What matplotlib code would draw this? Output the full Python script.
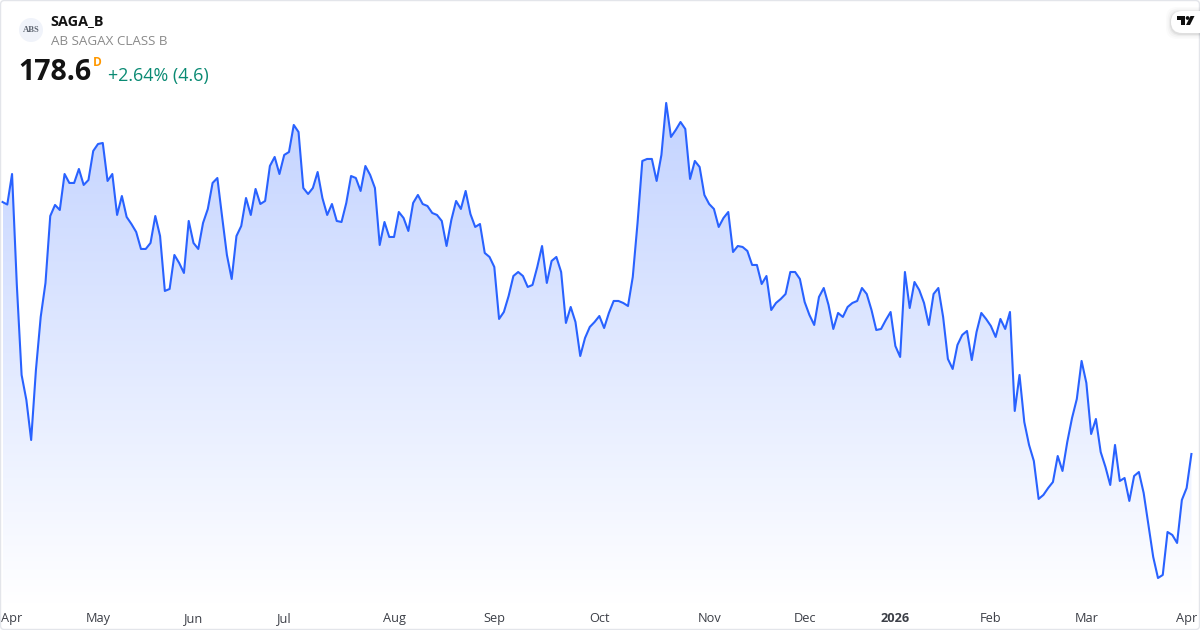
"""SAGA_B one-year area chart card."""

import matplotlib
matplotlib.use("Agg")
import matplotlib.pyplot as plt
import numpy as np
from matplotlib.colors import LinearSegmentedColormap
from matplotlib.patches import Circle, FancyBboxPatch, Polygon
from matplotlib.transforms import ScaledTranslation

plt.rcParams["font.family"] = ["Open Sans", "DejaVu Sans"]

prices = [
    212.62, 212.28, 216.40, 201.42, 189.27, 185.89, 180.49, 189.94, 197.10, 201.69,
    210.73, 212.22, 211.54, 216.40, 215.19, 215.19, 217.08, 214.92, 215.59, 219.51,
    220.45, 220.59, 215.46, 216.40, 210.87, 213.43, 210.60, 209.65, 208.57, 206.28,
    206.28, 207.09, 210.73, 208.03, 200.61, 200.88, 205.47, 204.39, 203.04, 210.06,
    207.09, 206.28, 209.79, 211.68, 215.19, 215.86, 210.60, 205.47, 202.23, 208.03,
    209.38, 213.16, 210.87, 214.38, 212.35, 212.76, 217.48, 218.70, 216.40, 218.97,
    219.37, 223.02, 222.07, 214.51, 213.70, 214.51, 216.67, 213.16, 210.87, 212.35,
    210.06, 209.92, 212.49, 216.13, 215.86, 214.11, 217.48, 216.27, 214.51, 206.82,
    209.92, 207.90, 207.90, 211.27, 210.46, 208.71, 212.49, 213.57, 212.35, 212.08,
    211.14, 210.87, 210.06, 206.68, 210.19, 212.76, 211.68, 214.11, 211.00, 209.25,
    209.65, 205.74, 205.20, 203.85, 196.83, 197.77, 199.93, 202.63, 203.17, 202.63,
    201.15, 201.42, 203.85, 206.68, 201.69, 204.66, 205.20, 203.17, 196.29, 198.45,
    196.42, 191.83, 194.26, 195.75, 196.42, 197.23, 195.61, 197.64, 199.26, 199.26,
    198.99, 198.58, 202.50, 209.79, 218.16, 218.43, 218.43, 215.46, 218.97, 225.99,
    221.40, 222.34, 223.42, 222.48, 215.73, 218.16, 217.35, 213.57, 212.35, 211.68,
    209.25, 210.46, 211.27, 205.87, 206.68, 206.55, 206.01, 204.12, 204.12, 201.55,
    202.63, 198.04, 198.99, 199.53, 200.20, 203.17, 203.17, 202.23, 199.12, 197.37,
    196.02, 199.80, 201.01, 198.72, 195.48, 197.64, 197.10, 198.45, 198.99, 199.26,
    201.01, 200.20, 198.04, 195.34, 195.48, 196.69, 197.77, 193.18, 191.70, 203.17,
    198.31, 201.82, 200.74, 198.99, 196.02, 200.20, 201.01, 197.10, 191.43, 190.08,
    193.32, 194.67, 195.21, 191.29, 195.07, 197.64, 196.83, 195.88, 194.40, 196.83,
    195.48, 197.77, 184.41, 189.27, 182.92, 179.82, 177.66, 172.53, 173.07, 174.01,
    174.82, 178.33, 176.31, 180.22, 183.46, 186.03, 191.16, 188.19, 181.30, 183.33,
    178.87, 176.85, 174.42, 179.82, 174.96, 175.36, 172.26, 175.63, 176.17, 173.34,
    169.02, 164.70, 161.86, 162.27, 168.07, 167.67, 166.59, 172.39, 174.01, 178.60,
]
tick_days = [0, 20, 40, 59, 82, 103, 125, 148, 168, 187, 207, 227, 248]
tick_labels = ["Apr", "May", "Jun", "Jul", "Aug", "Sep", "Oct", "Nov", "Dec", "2026", "Feb", "Mar", "Apr"]

W, H = 1200, 630
LINE = "#2962ff"


def draw_card(fig):
    # everything here is in figure pixels
    over = fig.add_axes([0, 0, 1, 1], zorder=5)
    over.set_xlim(0, W)
    over.set_ylim(H, 0)
    over.axis("off")
    over.patch.set_alpha(0)
    over.add_patch(FancyBboxPatch((0.5, 0.5), W - 1, H - 1, boxstyle="round,pad=0,rounding_size=4",
                                  fill=False, ec="#e3e5ea", lw=1.0))
    over.add_patch(Circle((31, 30), 12, color="#f0f3fa", lw=0))
    over.text(31, 30.5, "ABS", family=["Liberation Serif", "DejaVu Serif"], fontsize=6.2, weight="bold",
              color="#5f6672", ha="center", va="center")
    over.text(50.5, 21, "SAGA_B", fontsize=10.4, weight="bold", color="#131313", va="center")
    over.text(51, 41.5, "AB SAGAX CLASS B", fontsize=9.6, color="#8a8a8a", va="center")
    over.text(18.5, 73, "178.6", fontsize=20.5, weight="bold", color="#131313", va="center")
    over.text(93, 62, "D", fontsize=8.6, weight="bold", color="#ff9800", va="center")
    over.text(108, 75.5, "+2.64% (4.6)", fontsize=12.9, color="#0a8a73", va="center")

    # logo tab
    for grow, alpha in ((5, 0.015), (3.5, 0.025), (2, 0.035), (1, 0.05)):
        over.add_patch(FancyBboxPatch((1171 - grow, 11 - grow + 1), 50, 22 + 2 * grow,
                                      boxstyle="round,pad=0,rounding_size=11", color="black", alpha=alpha, lw=0))
    over.add_patch(FancyBboxPatch((1171, 11), 50, 22, boxstyle="round,pad=0,rounding_size=11", color="white", lw=0))
    over.add_patch(Polygon([(1177, 16), (1185, 16), (1185, 25), (1181, 25), (1181, 20), (1177, 20)],
                           color="#0f0f0f", lw=0))
    over.add_patch(Circle((1187.6, 18), 1.9, color="#0f0f0f", lw=0))
    over.add_patch(Polygon([(1190.5, 16), (1194.5, 16), (1190, 25), (1186, 25)], color="#0f0f0f", lw=0))


def main():
    fig = plt.figure(figsize=(W / 100, H / 100), dpi=100, facecolor="white")
    ax = fig.add_axes([0, 1 - 604 / H, 1, 604 / H])
    x = np.arange(len(prices))
    y = np.array(prices)

    ax.set_xlim(-0.524, 250.8)
    ax.set_ylim(158.35, 239.89)

    cmap = LinearSegmentedColormap.from_list("area", ["#c3d3ff", "#ffffff"])
    top = y.max()
    bottom = 158.35
    img = ax.imshow(np.linspace(0, 1, 256).reshape(-1, 1), cmap=cmap, aspect="auto",
                    extent=(x[0], x[-1], bottom, top), origin="upper", zorder=1)
    fill = ax.fill_between(x, y, bottom, color="none", lw=0)
    img.set_clip_path(fill.get_paths()[0], transform=ax.transData)
    ax.set_xlim(-0.524, 250.8)
    ax.set_ylim(158.35, 239.89)

    ax.plot(x, y, color=LINE, lw=1.5, solid_joinstyle="round", zorder=3)

    for side in ax.spines.values():
        side.set_visible(False)
    ax.set_yticks([])
    ax.set_xticks(tick_days, tick_labels)
    ax.tick_params(axis="x", length=0, pad=6, labelsize=9.2, labelcolor="#3c3f47")
    labels = ax.get_xticklabels()
    labels[0].set_ha("left")
    labels[0].set_transform(labels[0].get_transform() + ScaledTranslation(-1.5 / 100, 0, fig.dpi_scale_trans))
    labels[tick_labels.index("2026")].set_weight("bold")

    draw_card(fig)
    fig.savefig("out.png", dpi=100)


if __name__ == "__main__":
    main()
